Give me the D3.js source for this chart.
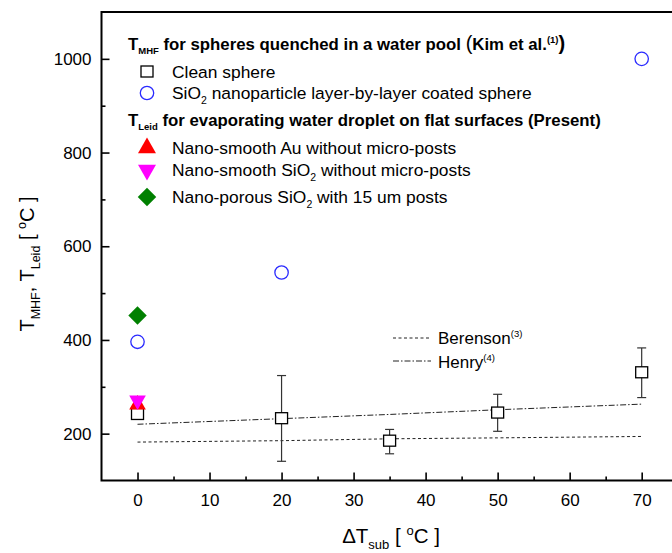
<!DOCTYPE html>
<html><head><meta charset="utf-8">
<script src="https://cdn.jsdelivr.net/npm/d3@7"></script>
<style>
body{margin:0;background:#fff;}
svg{display:block;font-family:"Liberation Sans",Arial,sans-serif;}
</style></head>
<body><svg id="c" width="672" height="553"></svg>
<script>
// ---- data ----
const xTicks = [0,10,20,30,40,50,60,70];
const yTicks = [200,400,600,800,1000];
const cleanX  = [0,20,35,50,70];
const cleanY  = [242,233,185,245,331];
const cleanLo = [234,141,157,205,277];
const cleanHi = [250,324,209,284,383];
const coatedX = [0,20,70];
const coatedY = [396,544,1000];
const auX = [0], auY = [262];
const sio2X = [0], sio2Y = [271];
const porousX = [0], porousY = [452];
const corrX = [0,20,35,50,70];
const berensonY = [182,185,189,191,194];
const henryY = [220,232,241,251,263];

const svg = d3.select("#c");
const L=101.5, R=677.7, T=12, B=480.5;
const x = d3.scaleLinear().domain([-5,75]).range([L,R]);
const y = d3.scaleLinear().domain([100,1100]).range([B,T]);

// axes
const xMinor = d3.range(5,75,10);
const yMinor = d3.range(300,1100,200);
const ax = svg.append("g").attr("transform",`translate(0,${B})`)
  .call(d3.axisBottom(x).tickValues(xTicks).tickFormat(d3.format("d")).tickSize(-8).tickPadding(13).tickSizeOuter(0));
ax.select(".domain").remove();
ax.selectAll("text").attr("font-size",17).attr("fill","#000").attr("font-family","Liberation Sans, Arial, sans-serif");
ax.selectAll("line").attr("stroke-width",1.6);
const axm = svg.append("g").attr("transform",`translate(0,${B})`)
  .call(d3.axisBottom(x).tickValues(xMinor).tickSize(-4).tickFormat(""));
axm.select(".domain").remove();
axm.selectAll("line").attr("stroke-width",1.6);

const ay = svg.append("g").attr("transform",`translate(${L},0)`)
  .call(d3.axisLeft(y).tickValues(yTicks).tickFormat(d3.format("d")).tickSize(-8).tickPadding(10).tickSizeOuter(0));
ay.select(".domain").remove();
ay.selectAll("text").attr("font-size",17).attr("fill","#000").attr("font-family","Liberation Sans, Arial, sans-serif");
ay.selectAll("line").attr("stroke-width",1.6);
const aym = svg.append("g").attr("transform",`translate(${L},0)`)
  .call(d3.axisLeft(y).tickValues(yMinor).tickSize(-4).tickFormat(""));
aym.select(".domain").remove();
aym.selectAll("line").attr("stroke-width",1.6);

// frame
svg.append("path").attr("d",`M${R},${T}H${L}V${B}H${R}`).attr("fill","none").attr("stroke","#000").attr("stroke-width",2);

// correlation lines
const line = d3.line().x(d=>x(d[0])).y(d=>y(d[1]));
svg.append("path").datum(corrX.map((v,i)=>[v,berensonY[i]])).attr("d",line)
  .attr("fill","none").attr("stroke","#222").attr("stroke-width",1).attr("stroke-dasharray","3,2.5");
svg.append("path").datum(corrX.map((v,i)=>[v,henryY[i]])).attr("d",line)
  .attr("fill","none").attr("stroke","#222").attr("stroke-width",1).attr("stroke-dasharray","6,2,1.5,2");

// error bars
const eb = svg.append("g").attr("stroke","#333").attr("stroke-width",1.2);
cleanX.forEach((v,i)=>{
  const cx=x(v);
  eb.append("line").attr("x1",cx).attr("x2",cx).attr("y1",y(cleanLo[i])).attr("y2",y(cleanHi[i]));
  [cleanLo[i],cleanHi[i]].forEach(e=>eb.append("line").attr("x1",cx-4.5).attr("x2",cx+4.5).attr("y1",y(e)).attr("y2",y(e)));
});
// clean squares
svg.append("g").selectAll("rect").data(cleanX).join("rect")
  .attr("x",(d)=>x(d)-6).attr("y",(d,i)=>y(cleanY[i])-5.5).attr("width",12).attr("height",11)
  .attr("fill","#fff").attr("stroke","#000").attr("stroke-width",1.3);

// coated circles
svg.append("g").selectAll("circle").data(coatedX).join("circle")
  .attr("cx",d=>x(d)).attr("cy",(d,i)=>y(coatedY[i])).attr("r",6.7)
  .attr("fill","none").attr("stroke","#2a2aff").attr("stroke-width",1.3);

const sym = (type,size)=>d3.symbol().type(type).size(size)();
// Au up triangle
svg.append("g").selectAll("path").data(auX).join("path")
  .attr("d",sym(d3.symbolTriangle,120))
  .attr("transform",(d,i)=>`translate(${x(d)},${y(auY[i])})`).attr("fill","#ff0000");
// SiO2 down triangle
svg.append("g").selectAll("path").data(sio2X).join("path")
  .attr("d",sym(d3.symbolTriangle,120))
  .attr("transform",(d,i)=>`translate(${x(d)},${y(sio2Y[i])}) rotate(180)`).attr("fill","#ff00ff");
// porous diamond
svg.append("g").selectAll("path").data(porousX).join("path")
  .attr("d",sym(d3.symbolSquare,170))
  .attr("transform",(d,i)=>`translate(${x(d)},${y(porousY[i])}) rotate(45)`).attr("fill","#008000");

// ---- legend ----
const lg = svg.append("g");
function title(yb, sub, rest, withKim){
  const t = lg.append("text").attr("x",128).attr("y",yb).attr("font-size",16.8).attr("font-weight","bold");
  t.append("tspan").text("T");
  t.append("tspan").attr("dy",4).attr("font-size",9.5).text(sub);
  t.append("tspan").attr("dy",-4).text(" "+rest);
  if(withKim){
    t.append("tspan").attr("font-size",20).attr("font-weight","normal").text("(");
    t.append("tspan").text("Kim et al.");
    t.append("tspan").attr("dy",-7).attr("font-size",9.5).text("(1)");
    t.append("tspan").attr("dy",7).attr("font-size",20).text(")");
  }
}
title(50,"MHF","for spheres quenched in a water pool ",true);
title(126,"Leid","for evaporating water droplet on flat surfaces (Present)",false);

function itemText(yb, a, sub, b){
  const t = lg.append("text").attr("x",172).attr("y",yb).attr("font-size",17.4);
  t.append("tspan").text(a);
  if(sub){ t.append("tspan").attr("dy",5).attr("font-size",10.5).text(sub);
           t.append("tspan").attr("dy",-5).text(b); }
}
lg.append("rect").attr("x",141).attr("y",66).attr("width",12).attr("height",11).attr("fill","#fff").attr("stroke","#000").attr("stroke-width",1.3);
itemText(78,"Clean sphere");
lg.append("circle").attr("cx",147).attr("cy",93).attr("r",6.7).attr("fill","none").attr("stroke","#2a2aff").attr("stroke-width",1.3);
itemText(99,"SiO","2"," nanoparticle layer-by-layer coated sphere");
lg.append("path").attr("d",sym(d3.symbolTriangle,140)).attr("transform","translate(147,148)").attr("fill","#ff0000");
itemText(154,"Nano-smooth Au without micro-posts");
lg.append("path").attr("d",sym(d3.symbolTriangle,140)).attr("transform","translate(147,170) rotate(180)").attr("fill","#ff00ff");
itemText(176,"Nano-smooth SiO","2"," without micro-posts");
lg.append("path").attr("d",sym(d3.symbolSquare,170)).attr("transform","translate(147,197) rotate(45)").attr("fill","#008000");
itemText(203,"Nano-porous SiO","2"," with 15 um posts");

// correlation legend
lg.append("line").attr("x1",393).attr("x2",431).attr("y1",338).attr("y2",338).attr("stroke","#222").attr("stroke-dasharray","3,2.5");
lg.append("line").attr("x1",393).attr("x2",431).attr("y1",361).attr("y2",361).attr("stroke","#222").attr("stroke-dasharray","6,2,1.5,2");
function corrText(yb, name, ref){
  const t = lg.append("text").attr("x",438).attr("y",yb).attr("font-size",17);
  t.append("tspan").text(name);
  t.append("tspan").attr("dy",-7).attr("font-size",9.5).text(ref);
}
corrText(344,"Berenson","(3)");
corrText(368,"Henry","(4)");

// axis titles
const xt = svg.append("text").attr("x",391).attr("y",543).attr("text-anchor","middle").attr("font-size",20.5);
xt.append("tspan").text("ΔT");
xt.append("tspan").attr("dy",6).attr("font-size",13).text("sub");
xt.append("tspan").attr("dy",-6).text(" [ ");
xt.append("tspan").attr("dy",-8).attr("font-size",13).text("o");
xt.append("tspan").attr("dy",8).text("C ]");

const yt = svg.append("text").attr("transform","translate(34,264) rotate(-90)").attr("text-anchor","middle").attr("font-size",20);
yt.append("tspan").text("T");
yt.append("tspan").attr("dy",6).attr("font-size",12.5).text("MHF");
yt.append("tspan").attr("dy",-6).text(", T");
yt.append("tspan").attr("dy",6).attr("font-size",12.5).text("Leid");
yt.append("tspan").attr("dy",-6).text(" [ ");
yt.append("tspan").attr("dy",-8).attr("font-size",12.5).text("o");
yt.append("tspan").attr("dy",8).text("C ]");
</script></body></html>
